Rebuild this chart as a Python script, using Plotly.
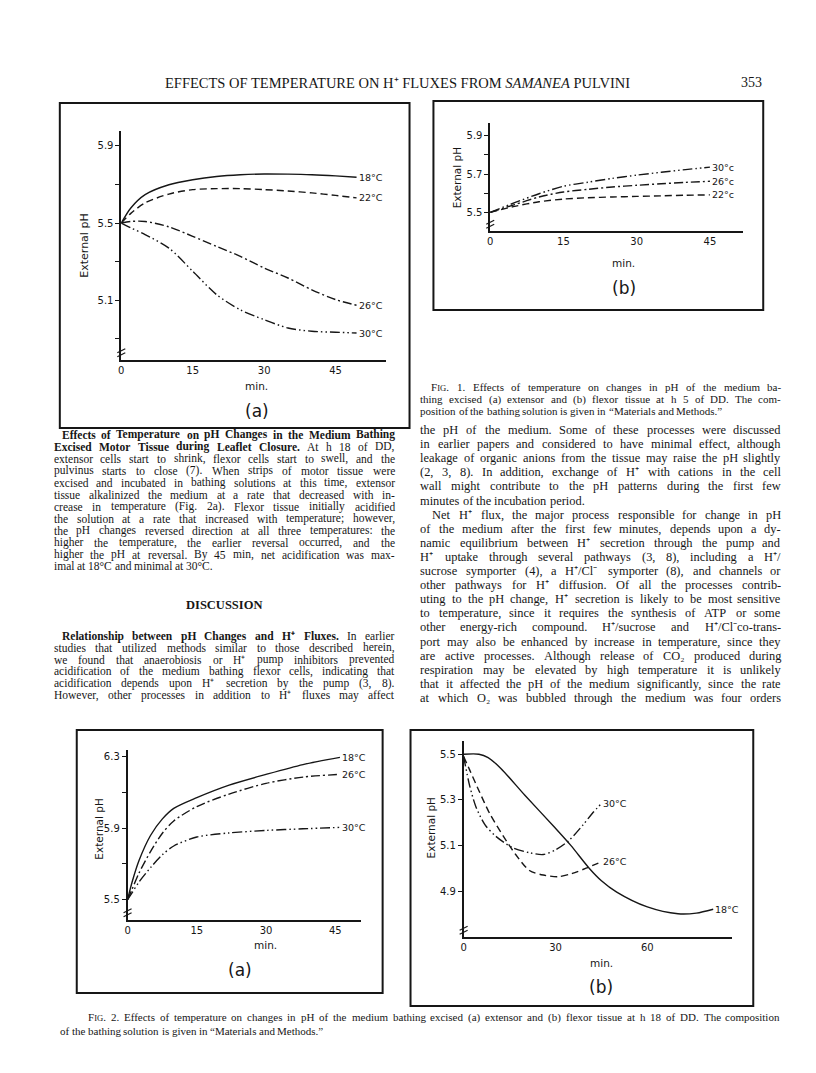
import plotly.graph_objects as go

W, H = 816, 1073

# ---------------- data (read from the page) ----------------
fig1a_minutes = [0, 2, 5, 10, 15, 20, 25, 30, 35, 40, 45, 49.4]
fig1a_ph_18C = [5.5, 5.578, 5.647, 5.698, 5.724, 5.741, 5.75, 5.754, 5.753, 5.75, 5.744, 5.737]
fig1a_ph_22C = [5.5, 5.55, 5.604, 5.65, 5.673, 5.678, 5.678, 5.673, 5.666, 5.656, 5.643, 5.63]
fig1a_ph_26C = [5.5, 5.508, 5.508, 5.48, 5.431, 5.379, 5.327, 5.267, 5.215, 5.154, 5.103, 5.074]
fig1a_ph_30C = [5.5, 5.475, 5.44, 5.37, 5.25, 5.129, 5.05, 4.999, 4.956, 4.939, 4.934, 4.93]

fig1b_minutes = [0, 5, 10, 15, 20, 25, 30, 35, 40, 45]
fig1b_ph_30C = [5.5, 5.55, 5.597, 5.636, 5.657, 5.677, 5.694, 5.709, 5.723, 5.736]
fig1b_ph_26C = [5.5, 5.54, 5.58, 5.606, 5.62, 5.632, 5.641, 5.649, 5.656, 5.662]
fig1b_ph_22C = [5.5, 5.531, 5.555, 5.569, 5.576, 5.58, 5.583, 5.586, 5.589, 5.591]

fig2a_minutes = [0, 1, 2.5, 5, 7.5, 10, 15, 22, 30, 38, 46]
fig2a_ph_18C = [5.5, 5.6, 5.72, 5.86, 5.95, 6.01, 6.07, 6.14, 6.2, 6.255, 6.295]
fig2a_ph_26C = [5.5, 5.56, 5.65, 5.77, 5.87, 5.94, 6.02, 6.09, 6.15, 6.185, 6.2]
fig2a_ph_30C = [5.5, 5.54, 5.6, 5.68, 5.75, 5.8, 5.85, 5.873, 5.887, 5.896, 5.904]

fig2b_minutes_18C = [0, 5, 8, 12, 20, 30, 35, 41, 45, 50, 60, 70, 76, 81.5]
fig2b_ph_18C = [5.5, 5.5, 5.485, 5.44, 5.32, 5.175, 5.1, 5.0, 4.945, 4.895, 4.83, 4.80, 4.803, 4.82]
fig2b_minutes_26C = [0, 2, 5, 8.5, 13, 17, 21.5, 26, 31, 35.5, 40, 45]
fig2b_ph_26C = [5.49, 5.43, 5.34, 5.24, 5.14, 5.06, 4.99, 4.97, 4.963, 4.977, 5.0, 5.028]
fig2b_minutes_30C = [0, 2, 4, 7, 10.5, 16, 21.5, 26, 30, 34.5, 39, 42, 45]
fig2b_ph_30C = [5.49, 5.36, 5.27, 5.19, 5.14, 5.09, 5.068, 5.06, 5.08, 5.123, 5.19, 5.24, 5.284]

fig1_x_ticks = [0, 15, 30, 45]
fig1a_y_ticks = [5.1, 5.5, 5.9]
fig1a_y_minor = [4.9, 5.3, 5.7]
fig1b_y_ticks = [5.5, 5.7, 5.9]
fig1b_y_minor = [5.6, 5.8]
fig2a_x_ticks = [0, 15, 30, 45]
fig2a_y_ticks = [5.5, 5.9, 6.3]
fig2a_y_minor = [5.7, 6.1]
fig2b_x_ticks = [0, 30, 60]
fig2b_y_ticks = [4.9, 5.1, 5.3, 5.5]

header_text = "EFFECTS OF TEMPERATURE ON H⁺ FLUXES FROM <i>SAMANEA</i> PULVINI"
page_number = "353"

left_par1 = [
    "§Effects of Temperature on pH Changes in the Medium Bathing§",
    "§Excised Motor Tissue during Leaflet Closure.§ At h 18 of DD,",
    "extensor cells start to shrink, flexor cells start to swell, and the",
    "pulvinus starts to close (7). When strips of motor tissue were",
    "excised and incubated in bathing solutions at this time, extensor",
    "tissue alkalinized the medium at a rate that decreased with in-",
    "crease in temperature (Fig. 2a). Flexor tissue initially acidified",
    "the solution at a rate that increased with temperature; however,",
    "the pH changes reversed direction at all three temperatures: the",
    "higher the temperature, the earlier reversal occurred, and the",
    "higher the pH at reversal. By 45 min, net acidification was max-",
    "imal at 18°C and minimal at 30°C.",
]
left_heading = "DISCUSSION"
left_par2 = [
    "§Relationship between pH Changes and H⁺ Fluxes.§ In earlier",
    "studies that utilized methods similar to those described herein,",
    "we found that anaerobiosis or H⁺ pump inhibitors prevented",
    "acidification of the medium bathing flexor cells, indicating that",
    "acidification depends upon H⁺ secretion by the pump (3, 8).",
    "However, other processes in addition to H⁺ fluxes may affect",
]
right_par1 = [
    "the pH of the medium. Some of these processes were discussed",
    "in earlier papers and considered to have minimal effect, although",
    "leakage of organic anions from the tissue may raise the pH slightly",
    "(2, 3, 8). In addition, exchange of H⁺ with cations in the cell",
    "wall might contribute to the pH patterns during the first few",
    "minutes of the incubation period.",
]
right_par2 = [
    "Net H⁺ flux, the major process responsible for change in pH",
    "of the medium after the first few minutes, depends upon a dy-",
    "namic equilibrium between H⁺ secretion through the pump and",
    "H⁺ uptake through several pathways (3, 8), including a H⁺/",
    "sucrose symporter (4), a H⁺/Cl⁻ symporter (8), and channels or",
    "other pathways for H⁺ diffusion. Of all the processes contrib-",
    "uting to the pH change, H⁺ secretion is likely to be most sensitive",
    "to temperature, since it requires the synthesis of ATP or some",
    "other energy-rich compound. H⁺/sucrose and H⁺/Cl⁻co-trans-",
    "port may also be enhanced by increase in temperature, since they",
    "are active processes. Although release of CO₂ produced during",
    "respiration may be elevated by high temperature it is unlikely",
    "that it affected the pH of the medium significantly, since the rate",
    "at which O₂ was bubbled through the medium was four orders",
]
fig1_caption = [
    "FIG. 1. Effects of temperature on changes in pH of the medium ba-",
    "thing excised (a) extensor and (b) flexor tissue at h 5 of DD. The com-",
    "position of the bathing solution is given in “Materials and Methods.”",
]
fig2_caption = [
    "FIG. 2. Effects of temperature on changes in pH of the medium bathing excised (a) extensor and (b) flexor tissue at h 18 of DD. The composition",
    "of the bathing solution is given in “Materials and Methods.”",
]

# ---------------- layout constants (pixels) ----------------
INK = "#161616"
SERIF = "Liberation Serif"
SANS = "DejaVu Sans"

PANELS = {
    "1a": dict(ax="", box=(49, 95, 400, 420), x0=110.7, xppu=71.7 / 15, xend=376.7,
               yv=5.5, yp=215.0, yppu=193.0, ybot=351.7, ytop=123.0),
    "1b": dict(ax="2", box=(424, 93, 755, 302), x0=481.0, xppu=73.5 / 15, xend=735.0,
               yv=5.5, yp=204.3, yppu=191.5, ybot=223.3, ytop=115.0),
    "2a": dict(ax="3", box=(66, 722, 373, 985), x0=117.0, xppu=69.5 / 15, xend=351.7,
               yv=5.5, yp=891.7, yppu=179.0, ybot=911.7, ytop=741.7),
    "2b": dict(ax="4", box=(401, 722, 745, 998), x0=454.3, xppu=92.2 / 30, xend=723.3,
               yv=5.5, yp=746.2, yppu=228.0, ybot=929.3, ytop=733.3),
}


def fx(x):
    return x / W


def fy(y):
    return 1 - y / H


fig = go.Figure()
annotations = []
shapes = []


def add_text(x, y, text, size, family=SERIF, xanchor="left", angle=0, color=INK, weight="normal"):
    annotations.append(dict(x=fx(x), y=fy(y), xref="paper", yref="paper", text=text,
                            showarrow=False, xanchor=xanchor, yanchor="middle",
                            textangle=angle, borderpad=0, borderwidth=0,
                            font=dict(size=size, family=family, color=color, weight=weight)))


# ---- axes for each panel ----
layout_axes = {}
for key, p in PANELS.items():
    ax = p["ax"]
    xr = [0, (p["xend"] - p["x0"]) / p["xppu"]]
    yr = [p["yv"] - (p["ybot"] - p["yp"]) / p["yppu"], p["yv"] + (p["yp"] - p["ytop"]) / p["yppu"]]
    layout_axes["xaxis" + ax] = dict(
        domain=[fx(p["x0"]), fx(p["xend"])], range=xr, anchor="y" + ax,
        showline=True, linecolor=INK, linewidth=1.6, showgrid=False, zeroline=False,
        ticks="", tickfont=dict(size=10, family=SANS, color=INK), fixedrange=True)
    layout_axes["yaxis" + ax] = dict(
        domain=[fy(p["ybot"]), fy(p["ytop"])], range=yr, anchor="x" + ax,
        showline=True, linecolor=INK, linewidth=1.6, showgrid=False, zeroline=False,
        ticks="outside", ticklen=4, tickwidth=1.2, tickcolor=INK,
        tickfont=dict(size=10, family=SANS, color=INK), fixedrange=True)
    bx0, by0, bx1, by1 = p["box"]
    shapes.append(dict(type="rect", xref="paper", yref="paper", x0=fx(bx0), x1=fx(bx1),
                       y0=fy(by1), y1=fy(by0), line=dict(color=INK, width=2)))
    # axis-break marks
    yb = p["ybot"] - 9
    for dy in (0, 4):
        shapes.append(dict(type="line", xref="paper", yref="paper",
                           x0=fx(p["x0"] - 4), x1=fx(p["x0"] + 4),
                           y0=fy(yb + dy + 2), y1=fy(yb + dy - 2),
                           line=dict(color=INK, width=1.2)))

# tick settings
layout_axes["xaxis"].update(tickvals=fig1_x_ticks)
layout_axes["xaxis2"].update(tickvals=fig1_x_ticks)
layout_axes["xaxis3"].update(tickvals=fig2a_x_ticks)
layout_axes["xaxis4"].update(tickvals=fig2b_x_ticks)
layout_axes["yaxis"].update(tickvals=fig1a_y_ticks, ticktext=[f"{v:.1f}" for v in fig1a_y_ticks],
                            minor=dict(tickvals=fig1a_y_minor, ticks="outside", ticklen=4, tickcolor=INK))
layout_axes["yaxis2"].update(tickvals=fig1b_y_ticks, ticktext=[f"{v:.1f}" for v in fig1b_y_ticks],
                             minor=dict(tickvals=fig1b_y_minor, ticks="outside", ticklen=4, tickcolor=INK))
layout_axes["yaxis3"].update(tickvals=fig2a_y_ticks, ticktext=[f"{v:.1f}" for v in fig2a_y_ticks],
                             minor=dict(tickvals=fig2a_y_minor, ticks="outside", ticklen=4, tickcolor=INK))
layout_axes["yaxis4"].update(tickvals=fig2b_y_ticks, ticktext=[f"{v:.1f}" for v in fig2b_y_ticks])

# ---- curves ----
SOLID = "solid"
DASH = "7px,4px"
DASHDOT = "9px,3px,2px,3px"
DASHDOTDOT = "10px,3px,1.5px,3px,1.5px,3px"

series = [
    ("", fig1a_minutes, fig1a_ph_18C, SOLID, "18°C"),
    ("", fig1a_minutes, fig1a_ph_22C, DASH, "22°C"),
    ("", fig1a_minutes, fig1a_ph_26C, DASHDOT, "26°C"),
    ("", fig1a_minutes, fig1a_ph_30C, DASHDOTDOT, "30°C"),
    ("2", fig1b_minutes, fig1b_ph_30C, DASHDOTDOT, "30°c"),
    ("2", fig1b_minutes, fig1b_ph_26C, DASHDOT, "26°c"),
    ("2", fig1b_minutes, fig1b_ph_22C, DASH, "22°c"),
    ("3", fig2a_minutes, fig2a_ph_18C, SOLID, "18°C"),
    ("3", fig2a_minutes, fig2a_ph_26C, DASHDOT, "26°C"),
    ("3", fig2a_minutes, fig2a_ph_30C, DASHDOTDOT, "30°C"),
    ("4", fig2b_minutes_18C, fig2b_ph_18C, SOLID, "18°C"),
    ("4", fig2b_minutes_26C, fig2b_ph_26C, DASH, "26°C"),
    ("4", fig2b_minutes_30C, fig2b_ph_30C, DASHDOTDOT, "30°C"),
]
for ax, xs, ys, dash, label in series:
    fig.add_trace(go.Scatter(x=xs, y=ys, mode="lines", xaxis="x" + ax, yaxis="y" + ax,
                             line=dict(color=INK, width=1.4, dash=dash, shape="spline", smoothing=0.8),
                             hoverinfo="skip", showlegend=False))
    annotations.append(dict(x=xs[-1], y=ys[-1], xref="x" + ax, yref="y" + ax, text=label,
                            showarrow=False, xanchor="left", yanchor="middle", xshift=2,
                            borderpad=0, borderwidth=0,
                            font=dict(size=9.5, family=SANS, color=INK)))

# ---- panel titles ----
panel_text = [
    ("1a", (73, 238), (246.7, 378), (246.7, 403), "(a)", 11),
    ("1b", (448, 170), (615, 255), (615, 280), "(b)", 10.5),
    ("2a", (88, 821), (255, 937), (230, 962), "(a)", 10.5),
    ("2b", (422, 820), (593, 955), (592, 979), "(b)", 10.5),
]
for key, ypos, mpos, lpos, lab, ysz in panel_text:
    add_text(ypos[0], ypos[1], "External pH", ysz, SANS, "center", -90)
    add_text(mpos[0], mpos[1], "min.", 10.5, SANS, "center")
    add_text(lpos[0], lpos[1], lab, 17, SANS, "center")

# ---------------- page text ----------------
TW = {' ': 250, '!': 333, '"': 408, '%': 833, '&': 778, "'": 333, '(': 333, ')': 333, '*': 500,
      '+': 564, ',': 250, '-': 333, '.': 250, '/': 278, ':': 278, ';': 278, '?': 444,
      'A': 722, 'B': 667, 'C': 667, 'D': 722, 'E': 611, 'F': 556, 'G': 722, 'H': 722, 'I': 333,
      'J': 389, 'K': 722, 'L': 611, 'M': 889, 'N': 722, 'O': 722, 'P': 556, 'Q': 722, 'R': 667,
      'S': 556, 'T': 611, 'U': 722, 'V': 722, 'W': 944, 'X': 722, 'Y': 722, 'Z': 611,
      'a': 444, 'b': 500, 'c': 444, 'd': 500, 'e': 444, 'f': 333, 'g': 500, 'h': 500, 'i': 278,
      'j': 278, 'k': 500, 'l': 278, 'm': 778, 'n': 500, 'o': 500, 'p': 500, 'q': 500, 'r': 333,
      's': 389, 't': 278, 'u': 500, 'v': 500, 'w': 722, 'x': 500, 'y': 500, 'z': 444,
      '°': 400, '⁺': 400, '⁻': 400, '₂': 350, '“': 444, '”': 444}
TWB = {' ': 250, '(': 333, ')': 333, ',': 250, '.': 250, '-': 333,
       'A': 722, 'B': 667, 'C': 722, 'D': 722, 'E': 667, 'F': 611, 'G': 778, 'H': 778, 'I': 389,
       'J': 500, 'K': 778, 'L': 667, 'M': 944, 'N': 722, 'O': 778, 'P': 611, 'Q': 778, 'R': 722,
       'S': 556, 'T': 667, 'U': 722, 'V': 722, 'W': 1000, 'X': 722, 'Y': 722, 'Z': 667,
       'a': 500, 'b': 556, 'c': 444, 'd': 556, 'e': 444, 'f': 333, 'g': 500, 'h': 556, 'i': 278,
       'j': 333, 'k': 556, 'l': 278, 'm': 833, 'n': 556, 'o': 500, 'p': 556, 'q': 556, 'r': 444,
       's': 389, 't': 333, 'u': 556, 'v': 500, 'w': 722, 'x': 500, 'y': 500, 'z': 444, '⁺': 420}


def word_html(w, size):
    if w == "FIG.":
        return f"F<span style='font-size:{size * 0.78:.1f}px'>IG</span>."
    return w


def word_w(w, size, bold):
    if w == "FIG.":
        return (556 + (333 + 722) * 0.78 + 250) / 1000 * size
    table = TWB if bold else TW
    tot = sum(table.get(c, TW.get(c, 500)) for c in w)
    return tot / 1000 * size


def tokens(line):
    out, bold = [], False
    for w in line.split():
        if w.startswith("§"):
            bold, w = True, w[1:]
        end = w.endswith("§")
        if end:
            w = w[:-1]
        out.append((w, bold))
        if end:
            bold = False
    return out


def set_line(line, xl, xr, y, size, justify=True, indent=0.0):
    toks = tokens(line)
    widths = [word_w(w, size, b) for w, b in toks]
    x = xl + indent
    avail = xr - x
    space = 0.25 * size
    if justify and len(toks) > 1:
        gap = (avail - sum(widths)) / (len(toks) - 1)
        gap = max(gap, space * 0.6)
    else:
        gap = space
    for i, ((w, b), wd) in enumerate(zip(toks, widths)):
        html = word_html(w, size)
        wt = "bold" if b else "normal"
        if justify and len(toks) > 1 and i == len(toks) - 1:
            add_text(xr, y, html, size, SERIF, "right", weight=wt)
        else:
            add_text(x, y, html, size, SERIF, "left", weight=wt)
        x += wd + gap


def set_par(lines, xl, xr, y0, step, size, indent, last_justified=False):
    for i, ln in enumerate(lines):
        last = (i == len(lines) - 1)
        set_line(ln, xl, xr, y0 + i * step, size,
                 justify=(not last) or last_justified,
                 indent=indent if i == 0 else 0)


# header
add_text(388, 75, header_text, 14.5, SERIF, "center")
add_text(743, 74, page_number, 14, SERIF, "center")

# left column
LX0, LX1 = 43, 385
set_par(left_par1, LX0, LX1, 427, 11.95, 11.5, 8)
add_text((LX0 + LX1) / 2, 597, left_heading, 12.5, SERIF, "center", weight="bold")
set_par(left_par2, LX0, LX1, 628, 11.8, 11.5, 8, last_justified=True)

# right column
RX0, RX1 = 411, 773
set_par(right_par1, RX0, RX1, 422, 14.1, 12.4, 0)
set_par(right_par2, RX0, RX1, 422 + 6 * 14.1, 14.1, 12.4, 12, last_justified=True)

# captions
set_par(fig1_caption, 411, 773, 379, 12, 11, 11)
set_par(fig2_caption, 49, 772, 1009, 14, 11, 28)

fig.update_layout(width=W, height=H, margin=dict(l=0, r=0, t=0, b=0),
                  paper_bgcolor="white", plot_bgcolor="rgba(0,0,0,0)",
                  showlegend=False, annotations=annotations, shapes=shapes, **layout_axes)

fig.write_html("out.html", config={"displayModeBar": False})
